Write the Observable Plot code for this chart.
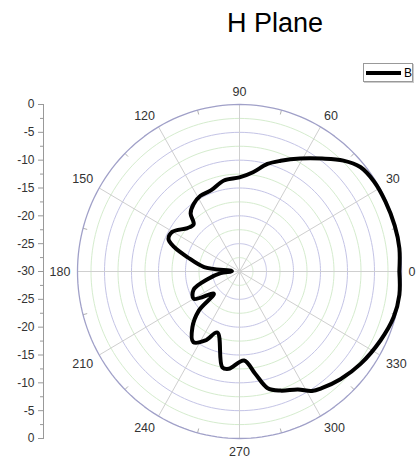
<!DOCTYPE html>
<html><head><meta charset="utf-8">
<script src="https://cdn.jsdelivr.net/npm/d3@7"></script>
<script src="https://cdn.jsdelivr.net/npm/@observablehq/plot@0.6"></script>
<style>
body{margin:0;background:#fff;font-family:"Liberation Sans",Arial,sans-serif;}
#wrap{position:relative;width:416px;height:466px;overflow:hidden;}
#title{height:39px;box-sizing:border-box;padding-top:7px;padding-left:227px;font-size:27px;line-height:32px;color:#000;}
#legend{position:absolute;left:363px;top:63px;width:50px;height:19px;box-sizing:border-box;border:1px solid #999;box-shadow:1px 1px 0 #ccc;display:flex;align-items:center;font-size:12px;color:#000;background:#fff;}
#legend .sw{display:inline-block;width:36px;height:4px;background:#000;margin-left:2px;margin-right:3px}
</style></head><body>
<div id="wrap">
  <div id="title">H Plane</div>
  <div id="chart"></div>
  <div id="legend"><span class="sw"></span><span>B</span></div>
</div>
<script>
// Pattern "B": angle (deg) along the traced path, gain (dB)
const angles = [0, 8, 16, 25, 33, 40, 46, 53, 61, 69, 75, 82, 90, 100, 110, 118, 125, 131, 135, 141, 150, 156, 160, 165, 173, 178,
  185, 193, 201, 210, 220, 223, 229, 236, 243, 249.5, 259.5, 263.5, 273, 279, 284, 289.5, 297, 302, 306, 314, 323.5, 334.6, 344, 352, 360];
const gains = [-0.4, -0.1, -0.1, -0.2, -0.3, -0.8, -2.3, -4.6, -6.8, -8.7, -10, -12, -13.1, -13.4, -14.5, -14.6, -15.2, -16.2, -18, -17.6, -15.7, -15.6, -17.1, -20, -23.4, -28.6,
  -26.5, -24, -20.9, -20.2, -23.8, -19.7, -16.7, -14.7, -16.1, -18.3, -12.5, -12.4, -14, -11.4, -8.4, -7.3, -6.2, -4.7, -4.1, -3.1, -2.1, -1.1, -0.3, -0.1, -0.4];

const floorDb = -30;
const majorRings = [-25, -20, -15, -10, -5];
const minorRings = [-27.5, -22.5, -17.5, -12.5, -7.5, -2.5];
const outerRing = [0];
const spokeAngles = [0, 30, 60, 90, 120, 150, 180, 210, 240, 270, 300, 330];
const angleLabels = ["0", "30", "60", "90", "120", "150", "180", "210", "240", "270", "300", "330"];
const minorAngles = [15, 45, 75, 105, 135, 165, 195, 225, 255, 285, 315, 345];
const radialTicks = [-30, -25, -20, -15, -10, -5, 0, 5, 10, 15, 20, 25, 30];
const radialMinorTicks = [-27.5, -22.5, -17.5, -12.5, -7.5, -2.5, 2.5, 7.5, 12.5, 17.5, 22.5, 27.5];

const rad = d => d * Math.PI / 180;
const px = (a, g) => (g - floorDb) * Math.cos(rad(a));
const py = (a, g) => (g - floorDb) * Math.sin(rad(a));

const circleSteps = d3.range(0, 361, 2);
const ringPoints = levels => levels.flatMap(level => circleSteps.map(a => ({level, a})));

const curve = angles.map((a, i) => ({a, g: gains[i]}));

const labels = spokeAngles.map((a, i) => {
  const c = Math.cos(rad(a)), s = Math.sin(rad(a));
  return {a, text: angleLabels[i],
    ta: c > 0.01 ? "start" : c < -0.01 ? "end" : "middle",
    la: s > 0.01 ? "bottom" : s < -0.01 ? "top" : "middle"};
});
const labelGroups = d3.groups(labels, d => d.ta + "|" + d.la);
const labelR = 1.3;

const chart = Plot.plot({
  width: 416, height: 427,
  marginLeft: 43, marginTop: 65, marginBottom: 28, marginRight: 15,
  x: {domain: [-30, 30], range: [77, 401], axis: null},
  y: {domain: [-30, 30], range: [399, 65], axis: null},
  style: {fontFamily: "Liberation Sans, Arial, sans-serif", fontSize: "12px", color: "#333", background: "white"},
  marks: [
    Plot.line(ringPoints(minorRings), {x: d => px(d.a, d.level), y: d => py(d.a, d.level), z: "level", stroke: "#d5ecce", strokeWidth: 1}),
    Plot.line(ringPoints(majorRings), {x: d => px(d.a, d.level), y: d => py(d.a, d.level), z: "level", stroke: "#c4c4e6", strokeWidth: 1}),
    Plot.link(spokeAngles, {x1: () => 0, y1: () => 0, x2: a => px(a, 0), y2: a => py(a, 0), stroke: "#cfcfcf", strokeWidth: 1}),
    Plot.link(minorAngles, {x1: a => px(a, -0.8), y1: a => py(a, -0.8), x2: a => px(a, 0), y2: a => py(a, 0), stroke: "#b0b0b0", strokeWidth: 1}),
    Plot.line(ringPoints(outerRing), {x: d => px(d.a, d.level), y: d => py(d.a, d.level), z: "level", stroke: "#a0a0c8", strokeWidth: 1.3}),
    ...labelGroups.map(([key, arr]) => Plot.text(arr, {
      x: d => px(d.a, labelR), y: d => py(d.a, labelR), text: "text",
      textAnchor: arr[0].ta, lineAnchor: arr[0].la,
      dy: arr[0].la === "bottom" ? -1 : arr[0].la === "top" ? 1 : 0,
      fill: "#333", fontSize: 12.5
    })),
    Plot.line(curve, {x: d => px(d.a, d.g), y: d => py(d.a, d.g), stroke: "#000", strokeWidth: 4, curve: "catmull-rom", strokeLinejoin: "round"}),
    Plot.frame({anchor: "left", stroke: "#999"}),
    Plot.axisY(radialTicks, {anchor: "left", tickSize: 5, tickPadding: 4, tickFormat: d => String(Math.abs(d) + floorDb), label: null, stroke: "#999", fill: "#333", fontSize: 12}),
    Plot.axisY(radialMinorTicks, {anchor: "left", tickSize: 3, tickFormat: () => "", label: null, stroke: "#999"})
  ]
});
document.getElementById("chart").appendChild(chart);
</script>
</body></html>
